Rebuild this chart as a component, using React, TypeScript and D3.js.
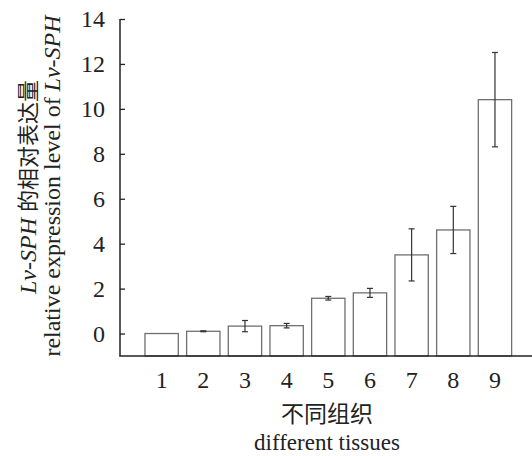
import React, { useRef, useEffect } from "react";
import * as d3 from "d3";

// tissues 1..9 and relative expression of Lv-SPH
const tissues = ["1", "2", "3", "4", "5", "6", "7", "8", "9"];
const expression = [0, 0.1, 0.33, 0.35, 1.57, 1.81, 3.5, 4.61, 10.41];
const errors = [0, 0.02, 0.25, 0.1, 0.08, 0.2, 1.16, 1.05, 2.1];
const yTicks = [0, 2, 4, 6, 8, 10, 12, 14];

const App = () => {
  const svgRef = useRef<SVGSVGElement>(null);

  useEffect(() => {
    const svg = d3.select(svgRef.current);
    svg.selectAll("*").remove();

    const width = 532,
      height = 456;
    const left = 120,
      bottom = 356;
    const font = "'Liberation Serif', 'Times New Roman', serif";
    const cjk = "'Noto Sans CJK SC', sans-serif";

    const x = d3
      .scaleBand()
      .domain(tissues)
      .range([128.3, 528.3])
      .paddingInner(0.2)
      .paddingOuter(0.4);

    // bars start from the x axis, which sits one unit below 0
    const y = d3.scaleLinear().domain([-1, 14]).range([bottom, 19]);

    const data = tissues.map((t, i) => ({
      t,
      v: expression[i],
      e: errors[i],
    }));

    // bars
    svg
      .append("g")
      .selectAll("rect")
      .data(data)
      .join("rect")
      .attr("x", (d) => x(d.t)!)
      .attr("y", (d) => y(d.v))
      .attr("width", x.bandwidth())
      .attr("height", (d) => y(-1) - y(d.v))
      .attr("fill", "white")
      .attr("stroke", "#707070")
      .attr("stroke-width", 1.3);

    // error bars
    const eb = svg
      .append("g")
      .attr("stroke", "#333")
      .attr("stroke-width", 1.2)
      .selectAll("g")
      .data(data.filter((d) => d.e > 0))
      .join("g")
      .attr("transform", (d) => `translate(${x(d.t)! + x.bandwidth() / 2},0)`);
    eb.append("line")
      .attr("y1", (d) => y(d.v - d.e))
      .attr("y2", (d) => y(d.v + d.e));
    eb.append("line")
      .attr("x1", -3)
      .attr("x2", 3)
      .attr("y1", (d) => y(d.v + d.e))
      .attr("y2", (d) => y(d.v + d.e));
    eb.append("line")
      .attr("x1", -3)
      .attr("x2", 3)
      .attr("y1", (d) => y(d.v - d.e))
      .attr("y2", (d) => y(d.v - d.e));

    // y axis: inward ticks, labels drawn by hand so the serif font sticks
    const yAxis = svg
      .append("g")
      .attr("transform", `translate(${left},0)`)
      .call(d3.axisLeft(y).tickValues(yTicks).tickSize(-5).tickSizeOuter(0));
    yAxis.select(".domain").remove();
    yAxis.selectAll("text").remove();
    yAxis.selectAll("line").attr("stroke", "#222").attr("stroke-width", 1.3);
    svg
      .append("g")
      .selectAll("text")
      .data(yTicks)
      .join("text")
      .attr("x", left - 15)
      .attr("y", (d) => y(d))
      .attr("dy", "0.34em")
      .attr("text-anchor", "end")
      .attr("fill", "#222")
      .style("font-family", font)
      .style("font-size", "24px")
      .text((d) => d);
    svg
      .append("line")
      .attr("x1", left)
      .attr("x2", left)
      .attr("y1", y(14))
      .attr("y2", bottom)
      .attr("stroke", "#222")
      .attr("stroke-width", 1.5);

    // x axis line and labels
    svg
      .append("line")
      .attr("x1", left - 0.75)
      .attr("x2", width)
      .attr("y1", bottom)
      .attr("y2", bottom)
      .attr("stroke", "#222")
      .attr("stroke-width", 1.5);
    svg
      .append("g")
      .selectAll("text")
      .data(tissues)
      .join("text")
      .attr("x", (d) => x(d)! + x.bandwidth() / 2)
      .attr("y", 388)
      .attr("text-anchor", "middle")
      .attr("fill", "#222")
      .style("font-family", font)
      .style("font-size", "24px")
      .text((d) => d);

    // x title
    svg
      .append("text")
      .attr("x", 327)
      .attr("y", 422)
      .attr("text-anchor", "middle")
      .attr("fill", "#222")
      .style("font-family", cjk)
      .style("font-size", "23px")
      .text("不同组织");
    svg
      .append("text")
      .attr("x", 327)
      .attr("y", 450)
      .attr("text-anchor", "middle")
      .attr("fill", "#222")
      .style("font-family", font)
      .style("font-size", "23px")
      .text("different tissues");

    // y title, two rotated lines
    const t1 = svg
      .append("text")
      .attr("transform", "translate(36,187) rotate(-90)")
      .attr("text-anchor", "middle")
      .attr("fill", "#222")
      .style("font-family", font)
      .style("font-size", "24px");
    t1.append("tspan").style("font-style", "italic").text("Lv");
    t1.append("tspan").text("-");
    t1.append("tspan").style("font-style", "italic").text("SPH");
    t1.append("tspan").text(" ");
    t1.append("tspan")
      .style("font-family", cjk)
      .style("font-size", "22px")
      .text("的相对表达量");

    const t2 = svg
      .append("text")
      .attr("transform", "translate(60,186) rotate(-90)")
      .attr("text-anchor", "middle")
      .attr("fill", "#222")
      .style("font-family", font)
      .style("font-size", "24px");
    t2.append("tspan").text("relative expression level of ");
    t2.append("tspan").style("font-style", "italic").text("Lv");
    t2.append("tspan").text("-");
    t2.append("tspan").style("font-style", "italic").text("SPH");

    svg.attr("width", width).attr("height", height);
  }, []);

  return (
    <svg
      ref={svgRef}
      style={{ position: "absolute", left: 0, top: 0, background: "white" }}
    ></svg>
  );
};

export default App;
